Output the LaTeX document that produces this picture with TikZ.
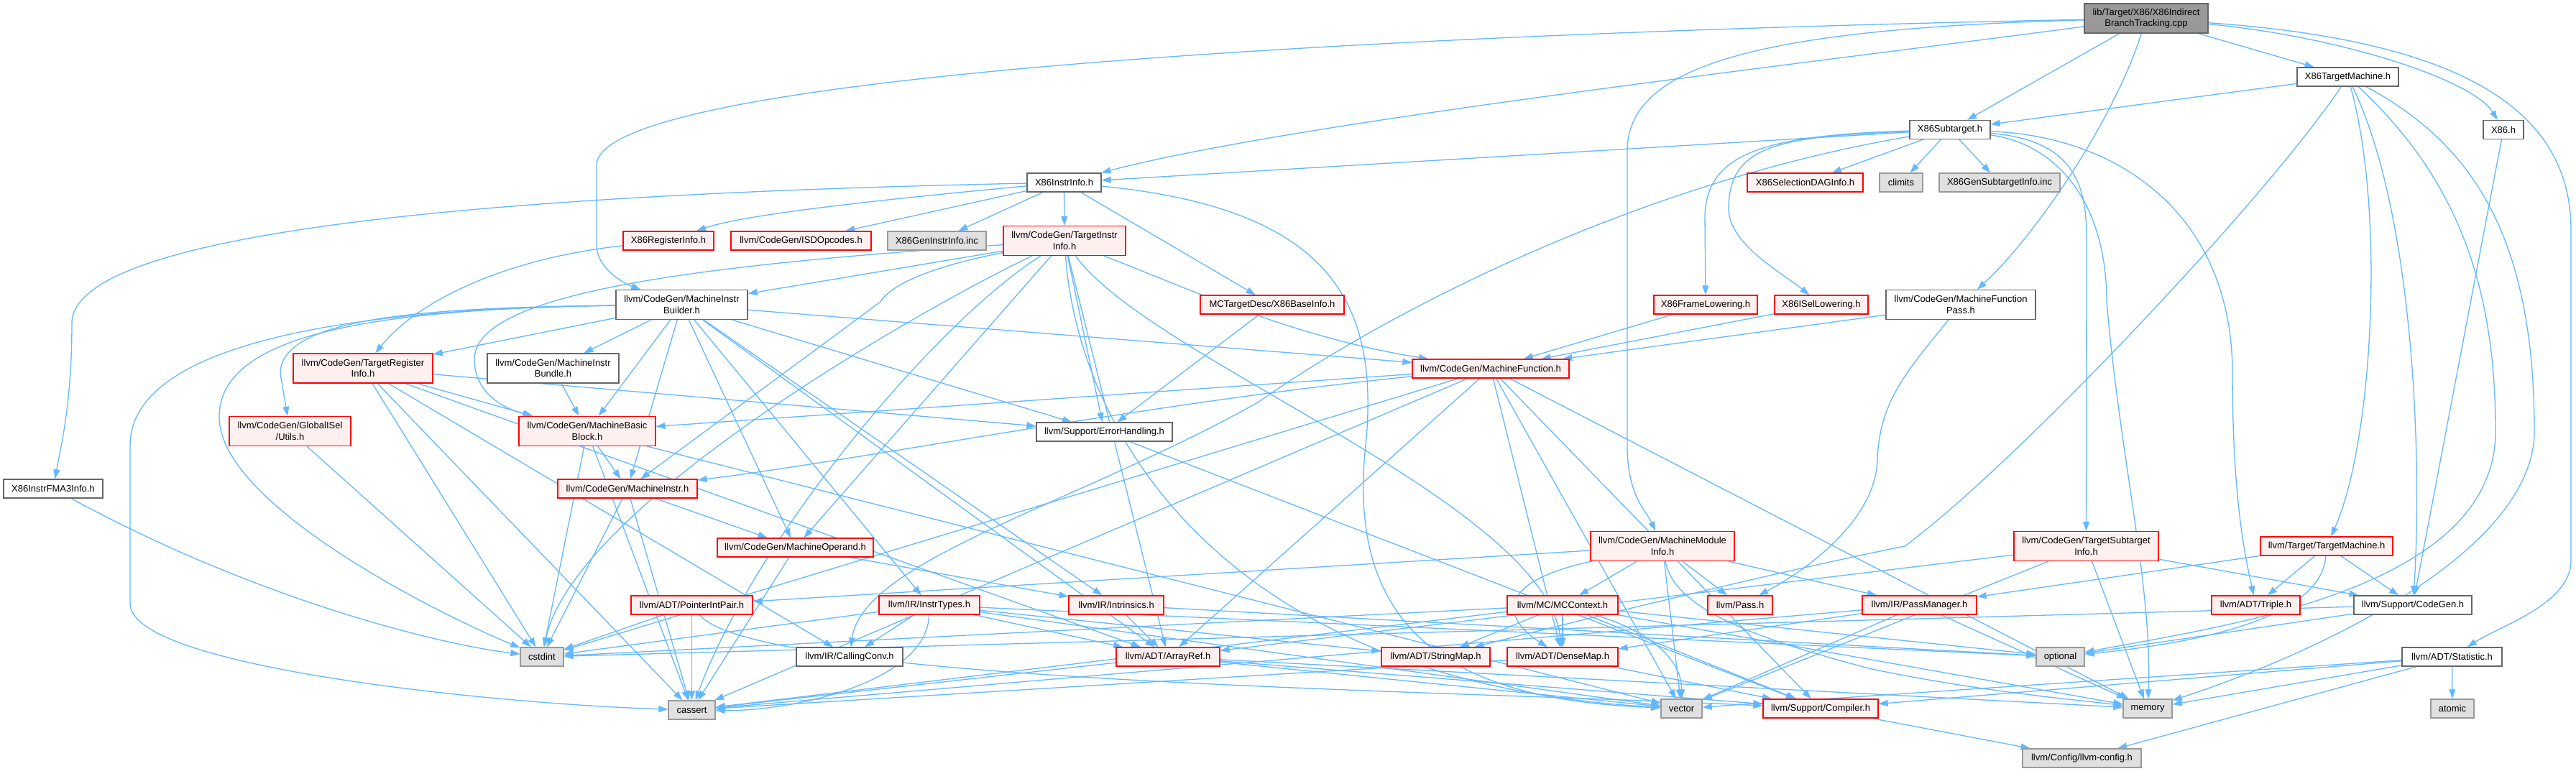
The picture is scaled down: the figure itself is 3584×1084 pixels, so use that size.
\documentclass[tikz,border=0pt]{standalone}
\usepackage{fontspec}
\setmainfont{Liberation Sans}
\usetikzlibrary{arrows.meta}
\pgfdeclarelayer{edges}
\pgfsetlayers{edges,main}
\definecolor{edgec}{HTML}{63B8FF}
\definecolor{cred}{HTML}{FF0000}
\definecolor{credfill}{HTML}{FFF0F0}
\definecolor{cdark}{HTML}{666666}
\definecolor{cgray}{HTML}{999999}
\definecolor{cgrayfill}{HTML}{E0E0E0}
\tikzset{
  box/.style={rectangle, inner sep=0pt, line width=1.3pt, align=center, text=black,
    font=\fontsize{13}{15.5}\selectfont},
  wn/.style={box, draw=cdark, fill=white},
  rn/.style={box, draw=cred, fill=credfill},
  gn/.style={box, draw=cgray, fill=cgrayfill},
  rootn/.style={box, draw=cdark, fill=cgray},
  e/.style={draw=edgec, line width=1.3pt, -{Triangle[length=13pt,width=9pt]}},
}
\newcommand\mkn[6]{\node[#1,minimum width=#4pt,minimum height=#5pt] (#2) at (#3) {#6};}
\begin{document}
\begin{tikzpicture}[x=1pt,y=-1pt]
\useasboundingbox (0,0) rectangle (3584,1084);
% ---- nodes ----
\mkn{rootn}{root}{2986,25.5}{172}{41}{lib/Target/X86/X86Indirect\\BranchTracking.cpp}
\mkn{wn}{tm}{3266.5,107}{141}{26}{X86TargetMachine.h}
\mkn{wn}{sub}{2713,180.5}{112}{26}{X86Subtarget.h}
\mkn{wn}{x86h}{3483,180.5}{56}{26}{X86.h}
\mkn{wn}{iinfo}{1480.5,254}{103}{26}{X86InstrInfo.h}
\mkn{rn}{seldag}{2511.5,254}{161}{26}{X86SelectionDAGInfo.h}
\mkn{gn}{climits}{2645,254}{60}{26}{climits}
\mkn{gn}{gensub}{2782,254}{168}{26}{X86GenSubtargetInfo.inc}
\mkn{rn}{reginfo}{930,335}{126}{26}{X86RegisterInfo.h}
\mkn{rn}{isd}{1114.5,335}{195}{26}{llvm/CodeGen/ISDOpcodes.h}
\mkn{gn}{geninstr}{1303.5,335}{137}{26}{X86GenInstrInfo.inc}
\mkn{rn}{tii}{1481,335}{170}{41}{llvm/CodeGen/TargetInstr\\Info.h}
\mkn{rn}{baseinfo}{1770,424}{200}{26}{MCTargetDesc/X86BaseInfo.h}
\mkn{rn}{framelow}{2373,424}{144}{26}{X86FrameLowering.h}
\mkn{rn}{isellow}{2534,424}{130}{26}{X86ISelLowering.h}
\mkn{wn}{mfpass}{2728,424}{208}{41}{llvm/CodeGen/MachineFunction\\Pass.h}
\mkn{wn}{mib}{948.5,424}{183}{41}{llvm/CodeGen/MachineInstr\\Builder.h}
\mkn{rn}{tri}{505,512.5}{194}{41}{llvm/CodeGen/TargetRegister\\Info.h}
\mkn{wn}{bundle}{769.5,512.5}{183}{41}{llvm/CodeGen/MachineInstr\\Bundle.h}
\mkn{rn}{mf}{2074,513}{218}{26}{llvm/CodeGen/MachineFunction.h}
\mkn{rn}{gisel}{403.5,600}{169}{41}{llvm/CodeGen/GlobalISel\\/Utils.h}
\mkn{rn}{mbb}{817,600}{190}{41}{llvm/CodeGen/MachineBasic\\Block.h}
\mkn{wn}{errh}{1536.5,601}{189}{26}{llvm/Support/ErrorHandling.h}
\mkn{wn}{fma3}{74,680}{138}{26}{X86InstrFMA3Info.h}
\mkn{rn}{mi}{873,680}{194}{26}{llvm/CodeGen/MachineInstr.h}
\mkn{rn}{mo}{1106.5,762}{217}{26}{llvm/CodeGen/MachineOperand.h}
\mkn{rn}{mmi}{2313,760}{200}{41}{llvm/CodeGen/MachineModule\\Info.h}
\mkn{rn}{tsi}{2902.5,760}{201}{41}{llvm/CodeGen/TargetSubtarget\\Info.h}
\mkn{rn}{tmach}{3237,760}{184}{26}{llvm/Target/TargetMachine.h}
\mkn{rn}{pip}{962.5,842}{169}{26}{llvm/ADT/PointerIntPair.h}
\mkn{rn}{instrtypes}{1293,842}{140}{26}{llvm/IR/InstrTypes.h}
\mkn{rn}{intrinsics}{1553,842}{132}{26}{llvm/IR/Intrinsics.h}
\mkn{rn}{mcctx}{2174,842}{154}{26}{llvm/MC/MCContext.h}
\mkn{rn}{pass}{2421,842}{90}{26}{llvm/Pass.h}
\mkn{rn}{passmgr}{2670.5,842}{159}{26}{llvm/IR/PassManager.h}
\mkn{rn}{triple}{3138.5,842}{123}{26}{llvm/ADT/Triple.h}
\mkn{wn}{codegen}{3357,842}{164}{26}{llvm/Support/CodeGen.h}
\mkn{wn}{callconv}{1182,914}{148}{26}{llvm/IR/CallingConv.h}
\mkn{rn}{arrayref}{1625,914}{144}{26}{llvm/ADT/ArrayRef.h}
\mkn{rn}{stringmap}{1997.5,914}{151}{26}{llvm/ADT/StringMap.h}
\mkn{rn}{densemap}{2174,914}{154}{26}{llvm/ADT/DenseMap.h}
\mkn{gn}{cstdint}{754,914}{60}{26}{cstdint}
\mkn{gn}{optional}{2866.5,914}{67}{26}{optional}
\mkn{wn}{statistic}{3411.5,914}{139}{26}{llvm/ADT/Statistic.h}
\mkn{gn}{cassert}{962.5,988}{65}{26}{cassert}
\mkn{gn}{vector}{2339.5,986}{57}{26}{vector}
\mkn{rn}{compiler}{2533,986}{160}{26}{llvm/Support/Compiler.h}
\mkn{gn}{memory}{2988,986}{68}{26}{memory}
\mkn{gn}{atomic}{3412,986}{60}{26}{atomic}
\mkn{gn}{llvmconfig}{2896.5,1055}{165}{26}{llvm/Config/llvm-config.h}
% ---- edges (under the nodes) ----
\begin{pgfonlayer}{edges}
\fill[white] (0,0) rectangle (3584,1084);
% root
\draw[e] (root) -- (sub);
\draw[e] (root) -- (tm);
\draw[e] (root) .. controls (3250,50) and (3440,110) .. (x86h);
\draw[e] (root) .. controls (3400,55) and (3577,140) .. (3577,320) -- (3577,780) .. controls (3577,840) and (3480,870) .. (statistic);
\draw[e] (root) .. controls (2500,90) and (1800,170) .. (iinfo);
\draw[e] (root) .. controls (2000,45) and (830,100) .. (830,230) -- (830,340) .. controls (830,375) and (870,395) .. (mib);
\draw[e] (root) .. controls (2450,40) and (2264,90) .. (2264,210) -- (2264,620) .. controls (2264,690) and (2290,710) .. (mmi);
\draw[e] (root) .. controls (2940,170) and (2830,330) .. (mfpass);
% X86TargetMachine.h
\draw[e] (tm) -- (sub);
\draw[e] (tm) .. controls (3150,280) and (2800,650) .. (2650,760) .. controls (2500,790) and (2250,850) .. (stringmap);
\draw[e] (tm) .. controls (3320,300) and (3300,620) .. (tmach);
\draw[e] (tm) .. controls (3360,300) and (3370,650) .. (codegen);
\draw[e] (tm) .. controls (3420,250) and (3472,400) .. (3472,600) .. controls (3472,820) and (3100,870) .. (optional);
\draw[e] (tm) .. controls (3440,200) and (3526,330) .. (3526,600) .. controls (3526,760) and (3250,900) .. (memory);
% X86.h
\draw[e] (x86h) -- (codegen);
% X86Subtarget.h
\draw[e] (sub) -- (iinfo);
\draw[e] (sub) -- (seldag);
\draw[e] (sub) -- (climits);
\draw[e] (sub) -- (gensub);
\draw[e] (sub) .. controls (2450,188) and (2375,215) .. (2372,300) -- (framelow);
\draw[e] (sub) .. controls (2480,190) and (2405,200) .. (2405,290) .. controls (2405,340) and (2480,380) .. (isellow);
\draw[e] (sub) .. controls (2300,250) and (1950,420) .. (1750,560) .. controls (1500,700) and (1200,780) .. (callconv);
\draw[e] (sub) .. controls (2880,195) and (2903,250) .. (2903,330) -- (tsi);
\draw[e] (sub) .. controls (2950,190) and (3106,300) .. (3106,520) .. controls (3106,700) and (3125,780) .. (triple);
\draw[e] (sub) .. controls (2860,200) and (2931,280) .. (2931,420) .. controls (2950,640) and (2995,820) .. (memory);
% X86InstrInfo.h
\draw[e] (iinfo) .. controls (700,270) and (100,320) .. (100,450) .. controls (100,560) and (85,620) .. (fma3);
\draw[e] (iinfo) .. controls (1200,280) and (1030,300) .. (reginfo);
\draw[e] (iinfo) -- (isd);
\draw[e] (iinfo) -- (geninstr);
\draw[e] (iinfo) -- (tii);
\draw[e] (iinfo) -- (baseinfo);
\draw[e] (iinfo) .. controls (1850,290) and (1920,420) .. (1900,620) .. controls (1870,900) and (2050,975) .. (vector);
% X86RegisterInfo.h
\draw[e] (reginfo) .. controls (700,360) and (580,420) .. (tri);
% TargetInstrInfo.h
\draw[e] (tii) -- (mib);
\draw[e] (tii) .. controls (950,370) and (660,410) .. (660,500) .. controls (660,540) and (690,565) .. (mbb);
\draw[e] (tii) .. controls (1300,370) and (1240,395) .. (1225,420) -- (mi);
\draw[e] (tii) .. controls (1650,400) and (1800,470) .. (mf);
\draw[e] (tii) -- (mo);
\draw[e] (tii) -- (arrayref);
\draw[e] (tii) .. controls (1600,500) and (2150,700) .. (densemap);
\draw[e] (tii) -- (errh);
\draw[e] (tii) .. controls (1300,450) and (1050,750) .. (cassert);
\draw[e] (tii) .. controls (1300,420) and (800,700) .. (cstdint);
\draw[e] (tii) .. controls (1500,600) and (1700,950) .. (vector);
% MachineInstrBuilder.h
\draw[e] (mib) -- (tri);
\draw[e] (mib) -- (bundle);
\draw[e] (mib) -- (mbb);
\draw[e] (mib) -- (mi);
\draw[e] (mib) -- (mo);
\draw[e] (mib) -- (instrtypes);
\draw[e] (mib) -- (intrinsics);
\draw[e] (mib) -- (arrayref);
\draw[e] (mib) -- (errh);
\draw[e] (mib) -- (mf);
\draw[e] (mib) .. controls (600,428) and (390,440) .. (390,520) -- (gisel);
\draw[e] (mib) .. controls (500,430) and (305,470) .. (305,580) .. controls (305,700) and (600,850) .. (cstdint);
\draw[e] (mib) .. controls (400,430) and (181,500) .. (181,620) -- (181,840) .. controls (181,930) and (700,980) .. (cassert);
% TargetRegisterInfo.h
\draw[e] (tri) -- (mbb);
\draw[e] (tri) -- (callconv);
\draw[e] (tri) -- (errh);
\draw[e] (tri) -- (arrayref);
\draw[e] (tri) -- (cassert);
\draw[e] (tri) -- (cstdint);
% others
\draw[e] (bundle) -- (mbb);
\draw[e] (gisel) -- (cstdint);
\draw[e] (mbb) -- (mi);
\draw[e] (mbb) -- (cstdint);
\draw[e] (mbb) -- (cassert);
\draw[e] (mbb) -- (vector);
\draw[e] (mi) -- (mo);
\draw[e] (mi) -- (cstdint);
\draw[e] (mi) -- (cassert);
\draw[e] (mo) -- (intrinsics);
\draw[e] (mo) -- (cassert);
\draw[e] (errh) -- (compiler);
\draw[e] (baseinfo) -- (errh);
\draw[e] (framelow) -- (mf);
\draw[e] (isellow) -- (mf);
\draw[e] (mfpass) -- (mf);
\draw[e] (mfpass) .. controls (2650,520) and (2615,560) .. (2612,640) .. controls (2610,720) and (2520,790) .. (pass);
\draw[e] (fma3) .. controls (350,830) and (600,895) .. (cstdint);
% MachineFunction.h
\draw[e] (mf) -- (mbb);
\draw[e] (mf) .. controls (1600,560) and (1200,640) .. (mi);
\draw[e] (mf) -- (arrayref);
\draw[e] (mf) -- (densemap);
\draw[e] (mf) -- (compiler);
\draw[e] (mf) -- (cassert);
\draw[e] (mf) -- (cstdint);
\draw[e] (mf) -- (memory);
\draw[e] (mf) -- (vector);
% MachineModuleInfo.h
\draw[e] (mmi) -- (pip);
\draw[e] (mmi) .. controls (2080,810) and (2090,860) .. (densemap);
\draw[e] (mmi) -- (mcctx);
\draw[e] (mmi) -- (vector);
\draw[e] (mmi) .. controls (2330,850) and (2450,890) .. (2600,930) .. controls (2750,962) and (2900,975) .. (memory);
\draw[e] (mmi) -- (pass);
\draw[e] (mmi) -- (passmgr);
% MCContext.h
\draw[e] (mcctx) -- (stringmap);
\draw[e] (mcctx) -- (densemap);
\draw[e] (mcctx) .. controls (2300,880) and (2340,920) .. (vector);
\draw[e] (mcctx) -- (compiler);
\draw[e] (mcctx) -- (memory);
\draw[e] (mcctx) -- (optional);
\draw[e] (mcctx) -- (cassert);
\draw[e] (mcctx) -- (cstdint);
% PassManager.h
\draw[e] (passmgr) -- (densemap);
\draw[e] (passmgr) -- (vector);
\draw[e] (passmgr) -- (memory);
\draw[e] (passmgr) -- (cassert);
% TargetSubtargetInfo.h
\draw[e] (tsi) -- (arrayref);
\draw[e] (tsi) -- (codegen);
\draw[e] (tsi) -- (memory);
\draw[e] (tsi) -- (vector);
% TargetMachine.h
\draw[e] (tmach) -- (passmgr);
\draw[e] (tmach) -- (triple);
\draw[e] (tmach) .. controls (3230,850) and (3100,890) .. (optional);
\draw[e] (tmach) -- (codegen);
% CodeGen.h
\draw[e] (codegen) -- (cstdint);
\draw[e] (codegen) -- (optional);
% PointerIntPair.h
\draw[e] (pip) -- (cstdint);
\draw[e] (pip) -- (cassert);
\draw[e] (pip) .. controls (1050,950) and (2000,960) .. (compiler);
% InstrTypes.h
\draw[e] (instrtypes) -- (arrayref);
\draw[e] (instrtypes) -- (callconv);
\draw[e] (instrtypes) .. controls (1290,950) and (1100,990) .. (cassert);
\draw[e] (instrtypes) -- (cstdint);
\draw[e] (instrtypes) -- (optional);
\draw[e] (instrtypes) -- (stringmap);
\draw[e] (instrtypes) -- (vector);
% Intrinsics.h
\draw[e] (intrinsics) -- (arrayref);
\draw[e] (intrinsics) -- (optional);
% ArrayRef.h
\draw[e] (arrayref) -- (cassert);
\draw[e] (arrayref) -- (vector);
\draw[e] (arrayref) -- (compiler);
\draw[e] (arrayref) -- (memory);
% DenseMap.h
\draw[e] (densemap) -- (compiler);
\draw[e] (densemap) -- (cassert);
% Statistic.h
\draw[e] (statistic) -- (vector);
\draw[e] (statistic) -- (compiler);
\draw[e] (statistic) -- (memory);
\draw[e] (statistic) -- (llvmconfig);
\draw[e] (statistic) -- (atomic);
% Compiler.h
\draw[e] (compiler) -- (llvmconfig);
\end{pgfonlayer}
\end{tikzpicture}
\end{document}
